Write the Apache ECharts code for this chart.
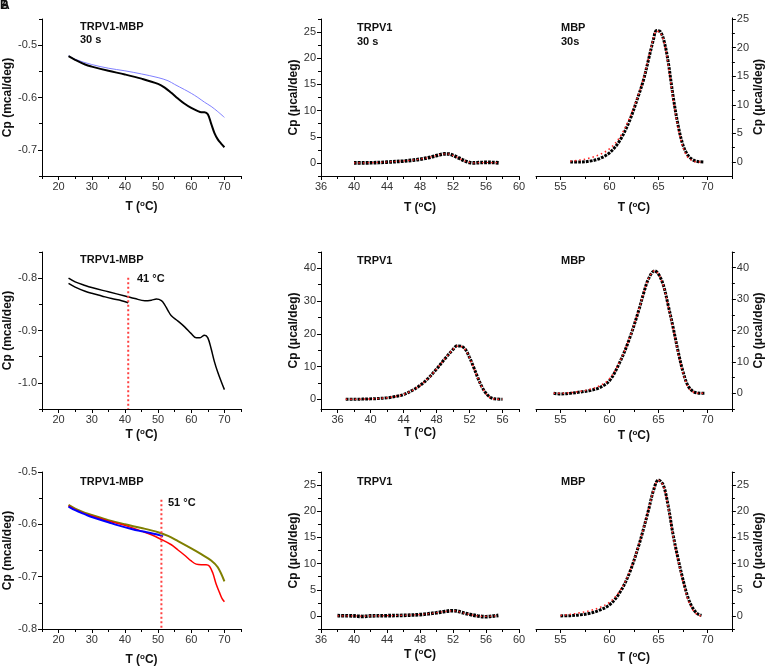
<!DOCTYPE html>
<html><head><meta charset="utf-8">
<script src="https://cdn.jsdelivr.net/npm/echarts@6/dist/echarts.min.js"></script>
<style>html,body{margin:0;padding:0;background:#fff}#c{width:766px;height:667px}</style>
</head><body><div id="c"></div>
<script>
// ---------------- DATA ----------------
// Panel 1: TRPV1-MBP 30 s (mcal/deg)
const p1Black = [[23,-0.521],[25,-0.528],[28,-0.537],[30,-0.541],[35,-0.549],[40,-0.556],[45,-0.564],[50,-0.574],[52,-0.581],[54,-0.591],[56,-0.602],[58,-0.612],[60,-0.620],[62,-0.626],[63,-0.628],[64,-0.628],[65,-0.632],[66,-0.650],[67,-0.668],[68,-0.680],[69,-0.688],[70,-0.695]];
const p1Blue = [[23,-0.520],[25,-0.527],[30,-0.537],[35,-0.544],[40,-0.549],[45,-0.555],[50,-0.562],[53,-0.568],[55,-0.575],[58,-0.585],[60,-0.592],[62,-0.600],[64,-0.609],[66,-0.617],[68,-0.627],[70,-0.638]];
// Panel 2: TRPV1 30 s
const p2Data = [[40,0],[42,0.02],[44,0.15],[46,0.35],[47,0.5],[48,0.7],[49,1.0],[50,1.4],[50.5,1.6],[51,1.72],[51.5,1.7],[52,1.45],[52.5,1.1],[53,0.7],[53.5,0.35],[54,0.1],[54.5,0],[55,0.05],[56,0.1],[57,0.08],[57.6,0]];
const p2Fit = [[40,0],[42,0.05],[44,0.18],[46,0.38],[47,0.52],[48,0.72],[49,1.02],[50,1.42],[50.5,1.62],[51,1.72],[51.5,1.68],[52,1.42],[52.5,1.08],[53,0.68],[53.5,0.33],[54,0.1],[54.5,0.02],[55,0.03],[56,0.08],[57,0.06],[57.6,0]];
// Panel 3: MBP 30s
const p3Data = [[56,0],[57,0],[58,0.15],[59,0.6],[60,1.6],[61,3.6],[62,7.0],[63,11.8],[63.5,14.5],[64,18.0],[64.5,21.5],[64.8,23.0],[65.2,22.8],[65.6,21.0],[66,17.5],[66.5,11.5],[67,6.5],[67.5,3.0],[68,1.2],[68.5,0.4],[69,0.1],[69.7,0]];
const p3Fit = [[56,0.15],[57,0.35],[58,0.7],[59,1.3],[60,2.3],[61,4.2],[62,7.5],[63,12.0],[63.5,14.8],[64,18.2],[64.5,21.7],[64.8,22.9],[65.2,22.6],[65.6,20.8],[66,17.0],[66.5,11.0],[67,6.0],[67.5,2.6],[68,0.8],[68.5,0.2],[69,0],[69.5,0]];
// Panel 4: TRPV1-MBP, 41 °C
const p4Upper = [[23,-0.800],[25,-0.807],[28,-0.814],[30,-0.818],[35,-0.826],[40,-0.834],[43,-0.839],[46,-0.843],[48,-0.842],[49.5,-0.840],[51,-0.843],[52,-0.851],[53,-0.862],[54,-0.872],[56,-0.882],[58,-0.893],[60,-0.906],[61.5,-0.914],[62.5,-0.914],[64,-0.909],[65,-0.914],[66,-0.935],[67,-0.960],[68,-0.980],[69,-0.997],[70,-1.013]];
const p4Lower = [[23,-0.810],[25,-0.817],[28,-0.825],[30,-0.829],[33,-0.834],[36,-0.839],[39,-0.843],[41,-0.847]];
const p4Mark = [[41,-0.799],[41,-1.05]];
// Panel 5: TRPV1
const p5Data = [[37,0],[38,0],[40,0.1],[42,0.4],[43,0.8],[44,1.4],[45,2.6],[46,4.2],[47,6.4],[48,9.2],[49,12.3],[50,15.2],[50.5,16.3],[51,16.2],[51.5,15.2],[52,12.8],[52.5,9.8],[53,6.6],[53.5,3.8],[54,1.8],[54.5,0.6],[55,0.1],[56,0]];
const p5Fit = [[37,0],[38,0],[40,0.1],[42,0.45],[43,0.85],[44,1.45],[45,2.6],[46,4.2],[47,6.4],[48,9.2],[49,12.3],[50,15.2],[50.5,16.2],[51,16.1],[51.5,15.1],[52,12.7],[52.5,9.7],[53,6.5],[53.5,3.7],[54,1.7],[54.5,0.5],[55,0.05],[56,0]];
// Panel 6: MBP
const p6Data = [[54.3,0],[55,-0.2],[56,0],[57,0.4],[58,0.9],[59,1.8],[60,4.0],[61,9.5],[62,17],[63,26.5],[63.5,32],[64,36.5],[64.6,39],[65,38],[65.5,34.5],[66,28],[66.5,21],[67,13.5],[67.5,7],[68,2.5],[68.5,0.7],[69,0.1],[69.7,0]];
const p6Fit = [[54.3,0],[55,0],[56,0.2],[57,0.6],[58,1.3],[59,2.4],[60,4.6],[61,9.8],[62,17.2],[63,26.6],[63.5,32],[64,36.6],[64.6,39],[65,38],[65.5,34.3],[66,27.8],[66.5,20.6],[67,13],[67.5,6.6],[68,2.2],[68.5,0.5],[69,0],[69.7,0]];
// Panel 7: TRPV1-MBP, 51 °C
const p7Red = [[23,-0.565],[25,-0.572],[28,-0.580],[30,-0.584],[35,-0.594],[40,-0.602],[45,-0.613],[48,-0.620],[51,-0.629],[54,-0.639],[56,-0.649],[58,-0.659],[60,-0.670],[61.5,-0.676],[63,-0.677],[64.5,-0.677],[65.5,-0.680],[66.5,-0.693],[67.5,-0.714],[68.5,-0.730],[69.3,-0.742],[70,-0.748]];
const p7Olive = [[23,-0.563],[25,-0.570],[28,-0.578],[30,-0.582],[35,-0.592],[40,-0.600],[45,-0.607],[50,-0.615],[53,-0.622],[56,-0.632],[60,-0.646],[63,-0.657],[66,-0.669],[68,-0.682],[70,-0.709]];
const p7Blue = [[23,-0.566],[25,-0.573],[28,-0.581],[30,-0.586],[35,-0.596],[38,-0.602],[42,-0.609],[44,-0.612],[46,-0.614],[48,-0.617],[50,-0.620],[51.5,-0.623]];
const p7Mark = [[51,-0.553],[51,-0.8]];
// Panel 8: TRPV1
const p8Data = [[38,0.05],[40,0],[41,-0.1],[42,0],[44,0.05],[46,0.1],[48,0.25],[49,0.4],[50,0.6],[51,0.85],[52,1.0],[52.5,0.95],[53,0.7],[54,0.3],[55,0],[56,-0.15],[57,0],[57.5,0.1]];
const p8Fit = [[38,0],[40,0],[41,-0.05],[42,0],[44,0.05],[46,0.12],[48,0.27],[49,0.42],[50,0.62],[51,0.85],[52,0.98],[52.5,0.92],[53,0.68],[54,0.28],[55,0.02],[56,-0.1],[57,0],[57.5,0.05]];
// Panel 9: MBP
const p9Data = [[55,0],[56,0.05],[57,0.2],[58,0.5],[59,1.1],[60,2.1],[61,4.3],[62,8.0],[63,13.5],[63.5,16.8],[64,20.3],[64.5,24.0],[65,26.0],[65.5,25.0],[66,21.0],[66.5,15.5],[67,11.0],[67.5,7.0],[68,3.6],[68.5,1.5],[69,0.4],[69.4,0.1]];
const p9Fit = [[55,0.1],[56,0.3],[57,0.6],[58,1.0],[59,1.6],[60,2.6],[61,4.6],[62,8.2],[63,13.6],[63.5,16.9],[64,20.4],[64.5,24.0],[65,25.9],[65.5,24.8],[66,20.8],[66.5,15.2],[67,10.6],[67.5,6.6],[68,3.2],[68.5,1.2],[69,0.2],[69.4,0]];

// Tick values
const xTicksA = [20,30,40,50,60,70], xMinorA = [15,25,35,45,55,65,75];
const xTicksB = [36,40,44,48,52,56,60], xMinorB = [38,42,46,50,54,58];
const xTicksB2 = [36,40,44,48,52,56], xMinorB2 = [34,38,42,46,50,54,58];
const xTicksC = [55,60,65,70], xMinorC = [52.5,57.5,62.5,67.5,72.5];
const yTicksP1 = [-0.7,-0.6,-0.5], yMinorP1 = [-0.75,-0.65,-0.55,-0.45];
const yTicksP4 = [-1.0,-0.9,-0.8], yMinorP4 = [-1.05,-0.95,-0.85,-0.75];
const yTicksP7 = [-0.8,-0.7,-0.6,-0.5], yMinorP7 = [-0.75,-0.65,-0.55];
const yTicks25 = [0,5,10,15,20,25], yMinor25 = [-2.5,2.5,7.5,12.5,17.5,22.5,27.5];
const yMinor25b = [2.5,7.5,12.5,17.5,22.5];
const yTicks40 = [0,10,20,30,40], yMinor40 = [5,15,25,35,45];
const yMinor40b = [-5,5,15,25,35,45];

// ---------------- LAYOUT / STYLE ----------------
const FONT = '"Liberation Sans", Arial, sans-serif';
const colL = [42, 321, 536], colW = [199, 198, 197];
const rowT = [19, 252, 472], rowH = 157;

const panels = [
  {c:0,r:0, xr:[15,75], xt:xTicksA, xm:xMinorA, yr:[-0.75,-0.45], yt:yTicksP1, ym:yMinorP1, dec:1, yName:'Cp (mcal/deg)', side:'left', xg:24, yg:22},
  {c:1,r:0, xr:[36,60], xt:xTicksB, xm:xMinorB, yr:[-2.5,27.5], yt:yTicks25, ym:yMinor25, dec:0, yName:'Cp (μcal/deg)', side:'left', xg:25, yg:20},
  {c:2,r:0, xr:[52.5,72.5], xt:xTicksC, xm:xMinorC, yr:[-2.45,25.2], yt:yTicks25, ym:yMinor25b, dec:0, yName:'Cp (μcal/deg)', side:'right', xg:25, yg:19, top:18, h:158},
  {c:0,r:1, xr:[15,75], xt:xTicksA, xm:xMinorA, yr:[-1.05,-0.75], yt:yTicksP4, ym:yMinorP4, dec:1, yName:'Cp (mcal/deg)', side:'left', xg:19, yg:22},
  {c:1,r:1, xr:[34,58], xt:xTicksB2, xm:xMinorB2, yr:[-3,45], yt:yTicks40, ym:yMinor40, dec:0, yName:'Cp (μcal/deg)', side:'left', xg:17, yg:20},
  {c:2,r:1, xr:[52.5,72.5], xt:xTicksC, xm:xMinorC, yr:[-5,45], yt:yTicks40, ym:yMinor40b, dec:0, yName:'Cp (μcal/deg)', side:'right', xg:20, yg:19},
  {c:0,r:2, xr:[15,75], xt:xTicksA, xm:xMinorA, yr:[-0.8,-0.5], yt:yTicksP7, ym:yMinorP7, dec:1, yName:'Cp (mcal/deg)', side:'left', xg:24, yg:22},
  {c:1,r:2, xr:[36,60], xt:xTicksB, xm:xMinorB, yr:[-2.5,27.5], yt:yTicks25, ym:yMinor25, dec:0, yName:'Cp (μcal/deg)', side:'left', xg:19, yg:20},
  {c:2,r:2, xr:[52.5,72.5], xt:xTicksC, xm:xMinorC, yr:[-2.5,27.5], yt:yTicks25, ym:yMinor25, dec:0, yName:'Cp (μcal/deg)', side:'right', xg:22, yg:19}
];

const grid = [], xAxis = [], yAxis = [];
const nameRich = {
  a:{fontFamily:FONT, fontWeight:'bold', fontSize:12, color:'#111', lineHeight:14},
  s:{fontFamily:FONT, fontWeight:'bold', fontSize:8, color:'#111', verticalAlign:'top', lineHeight:14}
};
panels.forEach((p,i)=>{
  grid.push({left:colL[p.c], top:(p.top!==undefined?p.top:rowT[p.r]), width:colW[p.c], height:(p.h||rowH), containLabel:false});
  const axLine = {onZero:false, lineStyle:{color:'#000', width:1}};
  xAxis.push({gridIndex:i, type:'value', min:p.xr[0], max:p.xr[1], position:'bottom',
    axisLine:axLine, splitLine:{show:false},
    axisTick:{customValues:p.xt, length:4, lineStyle:{color:'#000'}},
    axisLabel:{customValues:p.xt, color:'#333', fontSize:11, fontFamily:FONT, margin:5},
    name:'{a|T (}{s|o}{a|C)}', nameLocation:'middle', nameGap:p.xg, nameTextStyle:{rich:nameRich}
  });
  xAxis.push({gridIndex:i, type:'value', min:p.xr[0], max:p.xr[1], position:'bottom',
    axisLine:{show:false, onZero:false}, splitLine:{show:false}, axisLabel:{show:false},
    axisTick:{customValues:p.xm, length:3, lineStyle:{color:'#000'}}});
  yAxis.push({gridIndex:i, type:'value', min:p.yr[0], max:p.yr[1], position:p.side,
    axisLine:axLine, splitLine:{show:false},
    axisTick:{customValues:p.yt, length:4, lineStyle:{color:'#000'}},
    axisLabel:{customValues:p.yt, color:'#333', fontSize:11, fontFamily:FONT, margin:5,
      formatter:(v)=> p.dec ? Number(v).toFixed(1) : String(Math.round(v))},
    name:p.yName, nameLocation:'middle', nameRotate:90, nameGap:p.yg,
    nameTextStyle:{fontFamily:FONT, fontWeight:'bold', fontSize:12, color:'#111'}
  });
  yAxis.push({gridIndex:i, type:'value', min:p.yr[0], max:p.yr[1], position:p.side,
    axisLine:{show:false, onZero:false}, splitLine:{show:false}, axisLabel:{show:false},
    axisTick:{customValues:p.ym, length:3, lineStyle:{color:'#000'}}});
});

function ln(pi, data, color, width, type, smooth){
  return {type:'line', xAxisIndex:2*pi, yAxisIndex:2*pi, data:data, showSymbol:false, symbol:'none',
    smooth:(smooth===undefined?0.35:smooth), silent:true,
    lineStyle:{color:color, width:width, type:type||'solid'}};
}
const DOTS = [2.8,1.1];
const FITDOT = [1.5,3];
const series = [
  ln(0,p1Blue,'#8080ff',1), ln(0,p1Black,'#000',2),
  ln(1,p2Data,'#000',3.6,DOTS), ln(1,p2Fit,'#ff2020',1.2,FITDOT),
  ln(2,p3Data,'#000',3,DOTS), ln(2,p3Fit,'#ff2020',1.5,FITDOT),
  ln(3,p4Upper,'#000',1.5), ln(3,p4Lower,'#000',1.5), ln(3,p4Mark,'#ff4040',2,[2,2.5],false),
  ln(4,p5Data,'#000',3,DOTS), ln(4,p5Fit,'#ff2020',1.5,FITDOT),
  ln(5,p6Data,'#000',3,DOTS), ln(5,p6Fit,'#ff2020',1.5,FITDOT),
  ln(6,p7Olive,'#7f7f00',2), ln(6,p7Red,'#ff0000',1.5), ln(6,p7Blue,'#0000ff',2), ln(6,p7Mark,'#ff4040',2,[2,2.5],false),
  ln(7,p8Data,'#000',3.6,DOTS), ln(7,p8Fit,'#ff2020',1.2,FITDOT),
  ln(8,p9Data,'#000',3,DOTS), ln(8,p9Fit,'#ff2020',1.5,FITDOT)
];

function txt(x,y,t,size){
  return {type:'text', left:x, top:y, silent:true,
    style:{text:t, fill:'#111', font:'bold '+(size||11)+'px '+FONT}};
}
const graphic = [
  txt(0,0,'B',12), txt(1,0,'A',12),
  txt(80,21,'TRPV1-MBP'), txt(80,34,'30 s'),
  txt(357,22,'TRPV1'), txt(357,36,'30 s'),
  txt(561,22,'MBP'), txt(561,36,'30s'),
  txt(80,254,'TRPV1-MBP'), txt(137,273,'41 °C'),
  txt(357,255,'TRPV1'),
  txt(561,255,'MBP'),
  txt(80,476,'TRPV1-MBP'), txt(168,497,'51 °C'),
  txt(357,476,'TRPV1'),
  txt(561,476,'MBP')
];

const chart = echarts.init(document.getElementById('c'), null, {renderer:'canvas'});
chart.setOption({animation:false, backgroundColor:'#fff', grid, xAxis, yAxis, series, graphic});
</script></body></html>
